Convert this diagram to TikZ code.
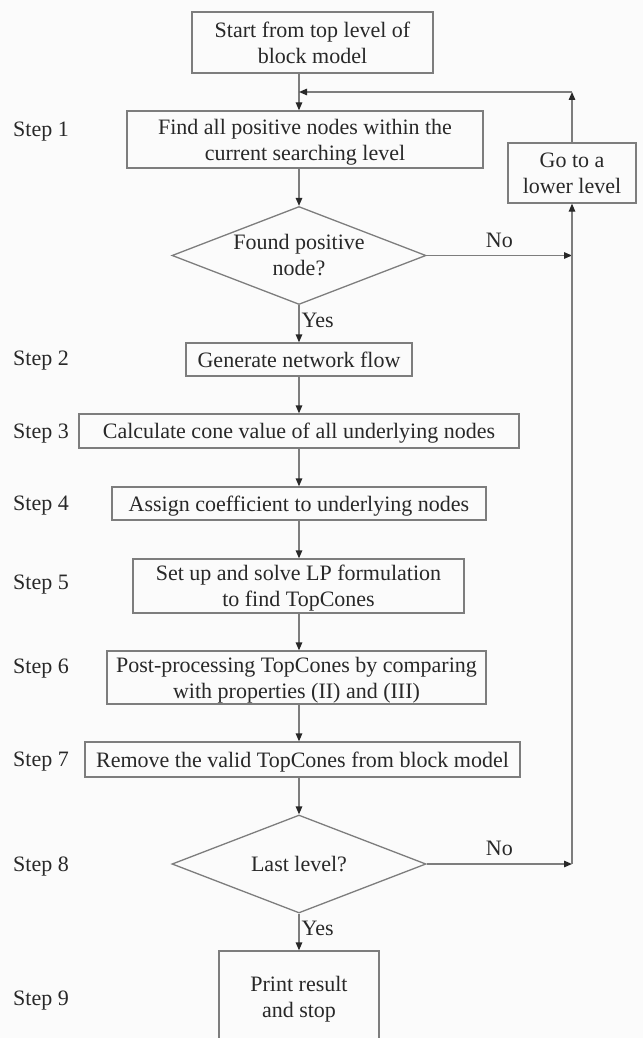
\documentclass[tikz,border=0pt]{standalone}
\usepackage{fontspec}
\setmainfont{Liberation Serif}
\usetikzlibrary{arrows.meta,shapes.geometric}
\definecolor{ink}{RGB}{40,40,40}
\definecolor{edge}{RGB}{125,125,125}
\definecolor{paper}{RGB}{251,251,251}

\begin{document}
\begin{tikzpicture}[x=1pt,y=-1pt,
  font=\fontsize{22}{26}\selectfont, text=ink,
  stepbox/.style={draw=edge, line width=1.3pt, align=center, inner sep=0pt,
    text depth=0pt},
  choice/.style={draw=edge, line width=1.3pt, shape=diamond, align=center,
    inner sep=0pt, aspect=2.6, minimum width=254, minimum height=98},
  steplabel/.style={anchor=base west, inner sep=0pt},
  flow/.style={draw=edge, line width=1.3pt,
    -{Triangle[length=8pt,width=6.5pt,color=ink]}},
  answer/.style={inner sep=2pt}
]
% page and background
\useasboundingbox (0,0) rectangle (643,1038);
\fill[paper] (0,0) rectangle (643,1038);
\clip (0,0) rectangle (643,1038);

% the main column of the flow runs along x = 299
\coordinate (spine) at (299,0);

% process boxes and decisions
\node[stepbox, minimum width=241, minimum height=61] (start) at (312.5,42.5)
  {Start from top level of\\block model};
\node[stepbox, minimum width=356, minimum height=57] (find) at (305,139.5)
  {Find all positive nodes within the\\current searching level};
\node[stepbox, minimum width=128, minimum height=60] (lower) at (572,173)
  {Go to a\\lower level};
\node[choice] (found) at (299,255.5) {Found positive\\node?};
\node[stepbox, minimum width=226, minimum height=33] (network) at (299,359.5)
  {Generate network flow};
\node[stepbox, minimum width=440, minimum height=34] (cone) at (299,431)
  {Calculate cone value of all underlying nodes};
\node[stepbox, minimum width=374, minimum height=33] (coef) at (299,503.5)
  {Assign coefficient to underlying nodes};
\node[stepbox, minimum width=331, minimum height=54] (lp) at (298.5,586)
  {Set up and solve LP formulation\\to find TopCones};
\node[stepbox, minimum width=379, minimum height=53] (post) at (296.5,677.5)
  {Post-processing TopCones by comparing\\with properties (II) and (III)};
\node[stepbox, minimum width=435, minimum height=35] (remove) at (302.5,759.5)
  {Remove the valid TopCones from block model};
\node[choice] (last) at (299,864) {Last level?};
\node[stepbox, minimum width=160, minimum height=92] (print) at (299,997)
  {Print result\\and stop};

% step labels in the left margin
\node[steplabel] (s1) at (13,136) {Step 1};
\node[steplabel] (s2) at (13,365) {Step 2};
\node[steplabel] (s3) at (13,438) {Step 3};
\node[steplabel] (s4) at (13,510) {Step 4};
\node[steplabel] (s5) at (13,589) {Step 5};
\node[steplabel] (s6) at (13,673) {Step 6};
\node[steplabel] (s7) at (13,766) {Step 7};
\node[steplabel] (s8) at (13,871) {Step 8};
\node[steplabel] (s9) at (13,1005) {Step 9};

% loop-back corner points
\coordinate (corner) at (572,92);
\coordinate (join) at (299,92);

% main column
\draw[flow] (start.south -| spine) -- (find.north -| spine);
\draw[flow] (find.south -| spine) -- (found.north);
\draw[flow] (found.south) -- node[answer, right, pos=0.4] (yes1) {Yes} (network.north);
\draw[flow] (network.south) -- (cone.north);
\draw[flow] (cone.south) -- (coef.north);
\draw[flow] (coef.south) -- (lp.north -| spine);
\draw[flow] (lp.south -| spine) -- (post.north -| spine);
\draw[flow] (post.south -| spine) -- (remove.north -| spine);
\draw[flow] (remove.south -| spine) -- (last.north);
\draw[flow] (last.south) -- node[answer, right, pos=0.4] (yes2) {Yes} (print.north);

% "No" branches and the return loop
\draw[flow] (found.east) -- node[above=4pt, inner sep=3.3pt] (no1) {No} (found.east -| lower.south);
\draw[flow] (last.east) -- node[above=4pt, inner sep=3.3pt] (no2) {No} (last.east -| lower.south);
\draw[flow] (last.east -| lower.south) -- (lower.south);
\draw[flow] (lower.north) -- (corner);
\draw[flow] (corner) -- (join);
\end{tikzpicture}
\end{document}
